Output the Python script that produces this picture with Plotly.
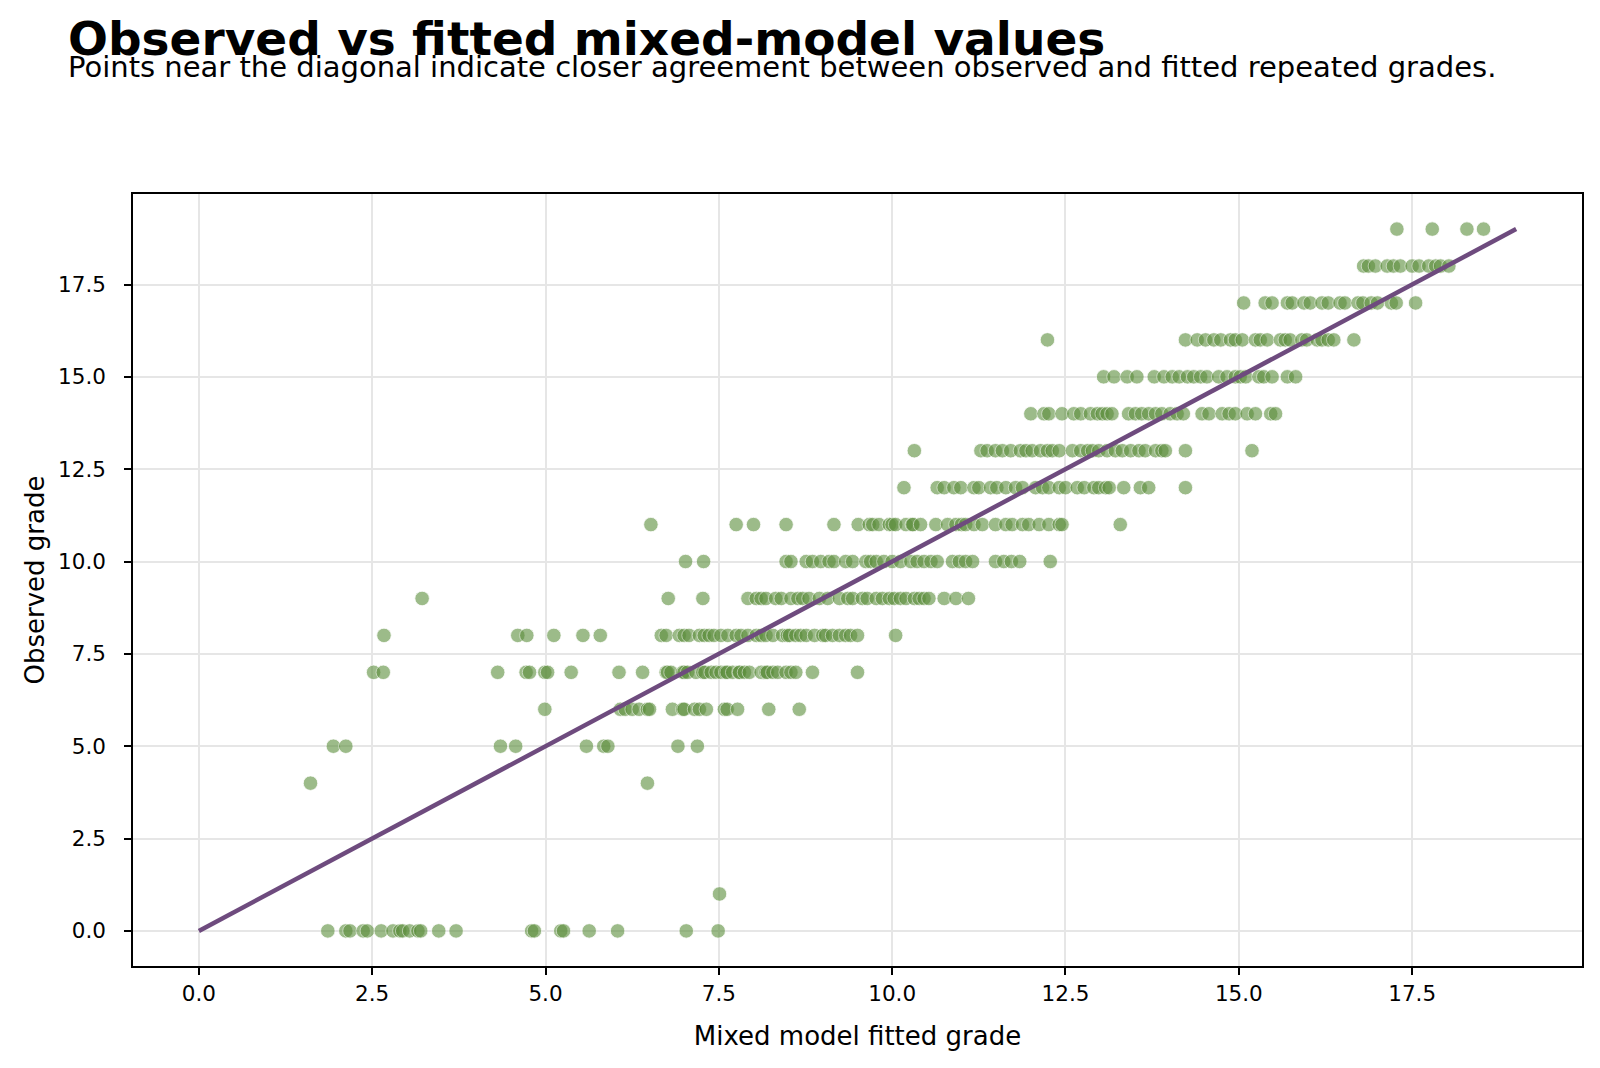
import plotly.graph_objects as go

# Fitted values (x) grouped by observed grade (y)
fitted_g0 = [1.86, 2.12, 2.18, 2.37, 2.43, 2.63, 2.80, 2.90, 2.94, 3.04, 3.16, 3.20, 3.46, 3.71,
             4.80, 4.84, 5.22, 5.26, 5.63, 6.04, 7.03, 7.49]
fitted_g1 = [7.51]
fitted_g4 = [1.61, 6.47]
fitted_g5 = [1.94, 2.12, 4.35, 4.57, 5.59, 5.84, 5.90, 6.91, 7.19]
fitted_g6 = [4.99, 6.08, 6.15, 6.25, 6.35, 6.47, 6.50, 6.83, 6.98, 7.00, 7.15, 7.22, 7.32,
             7.58, 7.62, 7.77, 8.22, 8.66]
fitted_g7 = [2.52, 2.66, 4.31, 4.72, 4.77, 4.99, 5.03, 5.37, 6.06, 6.40, 6.74, 6.76, 6.81,
             6.98, 7.00, 7.05, 7.17, 7.27, 7.30, 7.39, 7.46, 7.53, 7.60, 7.62, 7.70, 7.79,
             7.80, 7.87, 7.94, 8.11, 8.18, 8.20, 8.28, 8.35, 8.47, 8.54, 8.61, 8.85, 9.50]
fitted_g8 = [2.67, 4.60, 4.73, 5.12, 5.54, 5.79, 6.67, 6.74, 6.93, 7.00, 7.07, 7.22, 7.29,
             7.36, 7.43, 7.53, 7.63, 7.75, 7.82, 7.92, 8.04, 8.11, 8.18, 8.28, 8.42, 8.49,
             8.52, 8.61, 8.68, 8.76, 8.88, 9.00, 9.04, 9.14, 9.24, 9.33, 9.40, 9.50, 10.05]
fitted_g9 = [3.22, 6.77, 7.27, 7.92, 8.04, 8.11, 8.18, 8.32, 8.40, 8.54, 8.64, 8.71, 8.80,
             8.95, 9.07, 9.24, 9.36, 9.43, 9.57, 9.64, 9.77, 9.86, 9.96, 10.03, 10.12, 10.20,
             10.32, 10.39, 10.46, 10.53, 10.75, 10.92, 11.10]
fitted_g10 = [7.02, 7.28, 8.47, 8.54, 8.76, 8.85, 8.97, 9.09, 9.16, 9.33, 9.43, 9.62, 9.69,
              9.77, 9.88, 10.00, 10.12, 10.27, 10.36, 10.46, 10.56, 10.65, 10.87, 10.97, 11.06,
              11.16, 11.49, 11.61, 11.72, 11.84, 12.28]
fitted_g11 = [6.52, 7.75, 8.00, 8.47, 9.16, 9.51, 9.67, 9.72, 9.81, 9.96, 10.00, 10.05, 10.20,
              10.29, 10.30, 10.41, 10.63, 10.80, 10.92, 11.00, 11.06, 11.18, 11.30, 11.49,
              11.64, 11.73, 11.88, 11.97, 12.12, 12.26, 12.41, 12.45, 13.29]
fitted_g12 = [10.17, 10.65, 10.75, 10.89, 10.99, 11.18, 11.25, 11.42, 11.51, 11.64, 11.78,
              11.88, 12.07, 12.17, 12.26, 12.41, 12.50, 12.67, 12.77, 12.91, 12.98, 13.08,
              13.13, 13.34, 13.58, 13.70, 14.23]
fitted_g13 = [10.32, 11.28, 11.37, 11.49, 11.59, 11.71, 11.85, 11.93, 12.02, 12.14, 12.24,
              12.31, 12.41, 12.60, 12.72, 12.82, 12.89, 12.98, 13.10, 13.22, 13.32, 13.44,
              13.56, 13.65, 13.80, 13.89, 13.94, 14.23, 15.19]
fitted_g14 = [12.00, 12.19, 12.26, 12.45, 12.62, 12.72, 12.86, 12.96, 13.03, 13.10, 13.17,
              13.41, 13.51, 13.60, 13.70, 13.80, 13.89, 14.01, 14.11, 14.20, 14.47, 14.57,
              14.76, 14.86, 14.95, 15.12, 15.24, 15.46, 15.53]
fitted_g15 = [13.05, 13.20, 13.39, 13.53, 13.78, 13.92, 14.04, 14.14, 14.26, 14.35, 14.45,
              14.54, 14.71, 14.83, 14.95, 15.02, 15.10, 15.29, 15.36, 15.48, 15.70, 15.82]
fitted_g16 = [12.24, 14.23, 14.40, 14.52, 14.64, 14.74, 14.88, 14.95, 15.05, 15.24, 15.31,
              15.41, 15.60, 15.67, 15.74, 15.91, 15.98, 16.13, 16.20, 16.29, 16.37, 16.66]
fitted_g17 = [15.07, 15.38, 15.48, 15.70, 15.77, 15.94, 16.03, 16.20, 16.29, 16.46, 16.53,
              16.72, 16.79, 16.91, 17.00, 17.20, 17.27, 17.55]
fitted_g18 = [16.80, 16.87, 16.97, 17.14, 17.23, 17.33, 17.50, 17.60, 17.74, 17.84, 17.91, 18.03]
fitted_g19 = [17.28, 17.79, 18.29, 18.53]

grade_groups = {
    0: fitted_g0, 1: fitted_g1, 4: fitted_g4, 5: fitted_g5, 6: fitted_g6, 7: fitted_g7,
    8: fitted_g8, 9: fitted_g9, 10: fitted_g10, 11: fitted_g11, 12: fitted_g12,
    13: fitted_g13, 14: fitted_g14, 15: fitted_g15, 16: fitted_g16, 17: fitted_g17,
    18: fitted_g18, 19: fitted_g19,
}

diag_x = [0, 19]
diag_y = [0, 19]

tick_vals = [0, 2.5, 5, 7.5, 10, 12.5, 15, 17.5]
tick_text = ["0.0", "2.5", "5.0", "7.5", "10.0", "12.5", "15.0", "17.5"]

fitted = []
observed = []
for g, xs in grade_groups.items():
    fitted.extend(xs)
    observed.extend([g] * len(xs))

fig = go.Figure()
fig.add_trace(go.Scatter(
    x=fitted, y=observed, mode="markers",
    marker=dict(size=14.5, color="#5C8E3C", opacity=0.6,
                line=dict(color="white", width=0.8)),
    showlegend=False, hoverinfo="skip",
))
fig.add_trace(go.Scatter(
    x=diag_x, y=diag_y, mode="lines",
    line=dict(color="#6E4B7E", width=4.5),
    showlegend=False, hoverinfo="skip",
))

font_family = "DejaVu Sans"
axis_common = dict(
    tickvals=tick_vals, ticktext=tick_text,
    showgrid=True, gridcolor="#e6e6e6", gridwidth=1.5,
    showline=True, linecolor="black", linewidth=1.5, mirror=True,
    ticks="outside", ticklen=7, tickwidth=1.5, tickcolor="black",
    zeroline=False, tickfont=dict(family=font_family, size=21.5, color="black"),
)

fig.update_layout(
    width=1600, height=1068,
    margin=dict(l=133, r=18, t=194, b=102),
    paper_bgcolor="white", plot_bgcolor="white",
    font=dict(family=font_family, color="black"),
    xaxis=dict(range=[-0.95, 19.95],
               title=dict(text="Mixed model fitted grade",
                          font=dict(family=font_family, size=26), standoff=22),
               **axis_common),
    yaxis=dict(range=[-0.95, 19.95], ticklabelstandoff=14,
               title=dict(text="Observed grade",
                          font=dict(family=font_family, size=26), standoff=6),
               **axis_common),
    annotations=[
        dict(text="<b>Observed vs fitted mixed-model values</b>",
             xref="paper", yref="paper", x=-0.0462, y=1.2018,
             xanchor="left", yanchor="middle", showarrow=False,
             font=dict(family=font_family, size=47, color="black")),
        dict(text="Points near the diagonal indicate closer agreement between observed and fitted repeated grades.",
             xref="paper", yref="paper", x=-0.0462, y=1.1643,
             xanchor="left", yanchor="middle", showarrow=False,
             font=dict(family=font_family, size=29, color="black")),
    ],
)

fig.write_html("out.html")
